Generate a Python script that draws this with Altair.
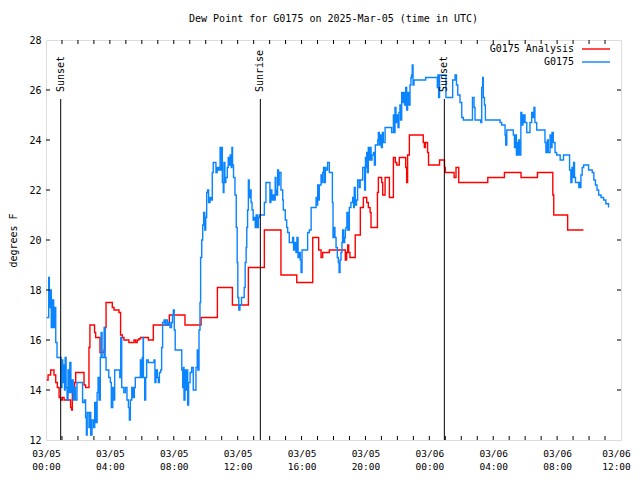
import altair as alt
import pandas as pd

FONT = "DejaVu Sans Mono"

# hours since 2025-03-05 00:00 UTC, dew point in degrees F
blue_hours = [
    0.04, 0.17, 0.21, 0.27, 0.33, 0.42, 0.48, 0.54, 0.61, 0.69, 0.94, 1.00, 1.05, 1.11, 1.16, 1.20,
    1.26, 1.32, 1.38, 1.44, 1.49, 1.56, 1.64, 1.70, 1.77, 1.84, 1.94, 2.29, 2.40, 2.48, 2.53, 2.58,
    2.69, 2.74, 2.80, 2.88, 2.98, 3.05, 3.13, 3.20, 3.26, 3.32, 3.40, 3.45, 3.51, 3.64, 3.70, 3.76,
    3.93, 4.03, 4.09, 4.18, 4.24, 4.30, 4.62, 4.68, 4.74, 4.87, 4.97, 5.07, 5.16, 5.22, 5.28, 5.37,
    5.45, 5.53, 5.59, 5.91, 5.97, 6.03, 6.08, 6.10, 6.18, 6.24, 6.30, 6.40, 6.76, 6.82, 6.88, 6.97,
    7.03, 7.10, 7.18, 7.24, 7.30, 7.39, 7.45, 7.50, 7.60, 7.67, 7.76, 7.86, 7.92, 7.97, 8.03, 8.09,
    8.50, 8.56, 8.60, 8.64, 8.70, 8.76, 8.83, 8.87, 8.93, 9.02, 9.12, 9.22, 9.39, 9.47, 9.51, 9.58,
    9.64, 9.68, 9.75, 9.81, 9.87, 9.94, 10.00, 10.06, 10.12, 10.18, 10.27, 10.35, 10.41, 10.47, 10.64, 10.72,
    10.81, 10.90, 10.94, 10.98, 11.04, 11.10, 11.14, 11.20, 11.26, 11.35, 11.41, 11.47, 11.53, 11.60, 11.64, 11.68,
    11.74, 11.83, 11.91, 11.97, 12.01, 12.07, 12.14, 12.24, 12.41, 12.47, 12.53, 12.57, 12.62, 12.67, 12.72, 12.78,
    12.84, 12.90, 12.97, 13.03, 13.10, 13.16, 13.24, 13.30, 13.36, 13.67, 13.77, 14.02, 14.08, 14.14, 14.22, 14.29,
    14.35, 14.39, 14.43, 14.50, 14.56, 14.60, 14.71, 14.82, 14.86, 14.98, 15.07, 15.13, 15.23, 15.44, 15.50, 15.56,
    15.65, 15.71, 15.78, 15.86, 15.92, 15.97, 16.03, 16.38, 16.49, 16.60, 16.91, 16.95, 17.01, 17.05, 17.11, 17.22,
    17.28, 17.32, 17.38, 17.42, 17.49, 17.53, 17.63, 17.74, 17.93, 17.97, 18.03, 18.09, 18.16, 18.24, 18.30, 18.35,
    18.41, 18.47, 18.53, 18.57, 18.63, 18.70, 18.74, 18.78, 18.84, 18.90, 18.99, 19.09, 19.20, 19.26, 19.30, 19.36,
    19.44, 19.51, 19.61, 19.67, 19.83, 19.95, 20.00, 20.03, 20.08, 20.12, 20.18, 20.24, 20.29, 20.35, 20.41, 20.50,
    20.56, 20.62, 20.77, 20.81, 20.87, 20.93, 21.00, 21.06, 21.12, 21.23, 21.64, 21.75, 21.79, 21.85, 21.91, 21.98,
    22.04, 22.10, 22.16, 22.20, 22.27, 22.33, 22.39, 22.45, 22.52, 22.58, 22.64, 22.70, 22.79, 22.85, 22.89, 22.93,
    22.98, 23.04, 23.77, 24.50, 24.54, 24.58, 24.64, 25.04, 25.46, 25.61, 25.70, 25.78, 25.92, 26.03, 26.13, 26.70,
    26.80, 26.86, 27.22, 27.28, 27.34, 27.38, 27.45, 27.51, 28.43, 28.53, 28.74, 28.78, 28.85, 29.26, 29.33, 29.39,
    29.45, 29.50, 29.56, 29.60, 29.64, 29.73, 29.79, 29.86, 29.90, 29.94, 29.99, 30.10, 30.30, 30.41, 30.47, 30.55,
    30.61, 30.72, 31.24, 31.30, 31.39, 31.45, 31.56, 31.62, 31.68, 31.76, 31.87, 31.97, 32.19, 32.40, 32.78, 32.86,
    32.93, 32.99, 33.03, 33.09, 33.15, 33.36, 33.40, 33.45, 33.49, 33.57, 33.66, 33.97, 34.20, 34.30, 34.40, 34.50,
    34.60, 34.75, 34.91, 35.05, 35.22,
]
blue_dewpt = [
    16.9, 18.5, 17.3, 18.0, 16.5, 17.6, 16.5, 17.3, 15.9, 15.3, 14.1, 15.2, 14.3, 15.0, 14.0, 15.3,
    14.1, 13.6, 14.8, 13.9, 15.1, 13.9, 14.4, 13.6, 14.1, 13.6, 14.3, 13.5, 13.6, 12.9, 12.2, 13.1,
    12.5, 13.1, 12.2, 12.8, 12.5, 13.5, 12.7, 13.9, 14.5, 13.6, 15.3, 16.3, 15.3, 16.5, 15.3, 14.8,
    14.5, 14.3, 13.3, 14.1, 13.6, 14.8, 14.5, 16.1, 14.1, 13.9, 14.1, 13.6, 13.3, 12.8, 13.6, 14.1,
    13.7, 14.1, 14.5, 15.2, 14.5, 15.3, 16.1, 14.5, 13.6, 14.5, 15.2, 15.1, 15.2, 14.3, 14.8, 14.5,
    14.3, 14.7, 14.8, 15.7, 16.7, 16.8, 16.6, 16.8, 16.6, 16.7, 16.5, 16.7, 17.0, 17.2, 16.4, 15.6,
    14.8, 14.1, 14.9, 13.6, 14.8, 14.0, 14.8, 13.4, 14.3, 14.7, 14.9, 14.0, 14.9, 15.6, 14.8, 16.4,
    17.5, 19.3, 20.0, 20.6, 21.1, 20.4, 20.9, 21.9, 22.0, 21.5, 21.7, 21.6, 22.7, 23.1, 22.7, 22.9,
    22.8, 23.7, 22.8, 23.7, 22.3, 21.9, 23.1, 22.3, 22.5, 22.9, 23.3, 23.0, 23.4, 22.9, 23.7, 23.0,
    22.5, 21.8, 20.5, 19.1, 17.7, 17.2, 17.4, 17.7, 18.1, 19.1, 19.7, 20.5, 21.2, 22.4, 21.7, 22.0,
    21.5, 21.2, 20.8, 20.9, 20.5, 21.0, 20.5, 20.9, 21.0, 21.5, 22.3, 21.5, 22.0, 21.6, 21.8, 21.6,
    22.5, 22.0, 21.8, 22.8, 22.2, 22.7, 22.0, 21.6, 21.2, 20.8, 20.5, 20.3, 19.9, 20.1, 19.6, 19.9,
    19.5, 20.1, 19.3, 19.5, 19.2, 18.7, 19.6, 20.3, 20.4, 21.3, 21.7, 21.4, 22.2, 21.6, 22.2, 22.6,
    22.3, 22.7, 22.9, 22.3, 22.9, 22.8, 23.1, 22.7, 21.5, 20.1, 20.5, 20.1, 19.7, 19.3, 19.1, 18.7,
    19.2, 19.5, 19.9, 20.4, 19.9, 20.1, 20.4, 20.5, 21.1, 20.4, 21.3, 21.5, 21.7, 21.3, 22.1, 21.4,
    21.6, 22.4, 22.1, 22.4, 22.9, 22.0, 23.3, 22.9, 23.5, 22.7, 23.7, 23.2, 23.7, 23.2, 23.4, 23.5,
    23.0, 23.8, 24.0, 24.3, 23.8, 24.2, 23.7, 24.3, 23.9, 24.5, 24.3, 25.0, 24.3, 25.3, 24.7, 25.0,
    24.5, 25.1, 25.4, 24.8, 25.9, 25.5, 25.9, 25.4, 26.1, 25.2, 25.9, 25.4, 26.2, 26.5, 26.6, 27.0,
    26.2, 26.4, 26.5, 26.1, 26.6, 25.7, 26.6, 25.7, 26.4, 26.6, 26.2, 25.8, 25.5, 24.9, 24.8, 25.7,
    25.3, 24.8, 24.7, 26.1, 26.5, 25.7, 25.4, 24.8, 24.7, 24.6, 24.2, 23.8, 24.4, 24.2, 23.7, 24.2,
    23.4, 23.9, 23.4, 24.0, 23.4, 25.1, 24.6, 25.0, 24.7, 25.0, 24.7, 24.3, 24.7, 25.1, 24.9, 25.3,
    24.7, 24.4, 23.9, 23.5, 24.0, 23.5, 24.2, 23.7, 24.3, 23.9, 23.5, 23.4, 23.2, 23.4, 22.8, 22.3,
    22.9, 22.5, 23.1, 22.5, 22.3, 22.1, 22.3, 22.1, 22.6, 22.9, 23.0, 22.8, 22.7, 22.4, 22.2, 22.0,
    21.8, 21.7, 21.6, 21.45, 21.3,
]

red_hours = [
    0.04, 0.13, 0.29, 0.50, 0.61, 0.71, 0.82, 0.92, 1.02, 1.13, 1.54, 1.61, 1.65, 1.71, 1.79, 1.86,
    2.27, 2.38, 2.48, 2.63, 2.69, 2.75, 3.04, 3.11, 3.38, 3.63, 3.69, 3.76, 4.15, 4.26, 4.57, 4.67,
    4.78, 4.88, 5.19, 5.51, 5.61, 5.71, 5.82, 5.92, 6.41, 6.72, 7.72, 8.70, 9.71, 10.73, 11.67, 12.67,
    13.67, 14.71, 15.70, 16.70, 17.07, 17.22, 17.32, 17.74, 18.74, 18.82, 18.89, 18.95, 19.03, 19.36, 19.68, 19.87,
    20.08, 20.18, 20.29, 20.35, 20.75, 20.81, 21.02, 21.08, 21.23, 21.50, 21.75, 21.87, 21.96, 22.12, 22.52, 22.58,
    22.64, 22.75, 23.62, 23.69, 23.75, 23.89, 23.95, 24.64, 24.95, 25.00, 25.55, 25.67, 25.84, 27.66, 28.70, 29.74,
    30.77, 31.73, 31.79, 32.66, 33.65,
]
red_dewpt = [
    14.4, 14.6, 14.8, 14.6, 14.3, 14.1, 13.7, 13.6, 13.7, 13.6, 13.3, 13.2, 14.1, 13.7, 14.3, 14.7,
    14.7, 14.2, 14.1, 14.1, 15.7, 16.6, 16.3, 16.1, 15.5, 15.6, 16.5, 17.5, 17.3, 17.2, 17.1, 16.2,
    16.1, 16.0, 15.9, 16.0, 15.9, 16.0, 16.05, 16.1, 16.0, 16.6, 17.0, 16.6, 16.9, 18.1, 17.4, 18.9,
    20.4, 18.6, 18.3, 20.1, 19.6, 19.3, 19.5, 19.6, 19.2, 19.5, 19.8, 19.5, 19.3, 20.2, 21.3, 21.7,
    21.5, 21.3, 21.1, 20.5, 21.9, 22.5, 22.3, 21.8, 22.5, 21.7, 23.3, 23.1, 23.0, 23.3, 22.9, 22.3,
    23.4, 24.2, 23.9, 23.7, 23.9, 23.5, 23.0, 23.2, 22.9, 22.7, 22.5, 22.9, 22.3, 22.5, 22.7, 22.5,
    22.7, 21.8, 21.0, 20.4, 20.4,
]

event_hours = [0.92, 13.42, 24.94]
event_labels = ["Sunset", "Sunrise", "Sunset"]

x_minor_ticks = list(range(1, 36))
x_label_hours = list(range(0, 37, 4))
y_label_values = list(range(12, 29, 2))
y_minor_ticks = list(range(14, 27, 2))

title_text = ["Dew Point for G0175 on 2025-Mar-05 (time in UTC)"]
legend_names = ["G0175 Analysis", "G0175"]
RED = "#ff0000"
BLUE = "#0a84ff"

W, H = 575, 400
xs = alt.Scale(domain=[0, 36], nice=False, zero=False)
ys = alt.Scale(domain=[12, 28], nice=False, zero=False)

label_expr = ("[(datum.value < 24 ? '03/05' : '03/06'), "
              "((datum.value % 24) < 10 ? '0' : '') + (datum.value % 24) + ':00']")

x_axis = alt.Axis(
    values=x_label_hours, labelExpr=label_expr, title=None, ticks=False, tickSize=0,
    domain=False, grid=False, labelPadding=8, labelFont=FONT, labelFontSize=9.5,
    labelColor="black", labelLineHeight=13, labelBaseline="top", labelFlush=False,
    labelOverlap=False, labelOffset={"expr": "datum.value == 36 ? -5 : 0"})
y_axis = alt.Axis(
    values=y_label_values, title="degrees F", ticks=False, tickSize=0, domain=False,
    grid=False, labelPadding=5, labelFont=FONT, labelFontSize=10, labelColor="black",
    titleFont=FONT, titleFontSize=10, titleFontWeight="normal", titleColor="black",
    titlePadding=10, labelOverlap=False)


def X(field="hour:Q"):
    return alt.X(field, scale=xs, axis=x_axis)


def Y(field="dewpt:Q"):
    return alt.Y(field, scale=ys, axis=y_axis)


red_df = pd.DataFrame({"hour": red_hours, "dewpt": red_dewpt})
blue_df = pd.DataFrame({"hour": blue_hours, "dewpt": blue_dewpt})
event_df = pd.DataFrame({"hour": event_hours, "label": event_labels})
xt_df = pd.DataFrame({"hour": x_minor_ticks})
yt_df = pd.DataFrame({"dewpt": y_minor_ticks})

red = alt.Chart(red_df).mark_line(interpolate="step-after", color=RED, strokeWidth=1.4).encode(
    x=X(), y=Y())
blue = alt.Chart(blue_df).mark_line(interpolate="step-after", color=BLUE, strokeWidth=1.4).encode(
    x=X(), y=Y())

ev_rule = alt.Chart(event_df).mark_rule(color="black", strokeWidth=1).encode(
    x=X(), y=alt.value(59), y2=alt.value(H))
ev_text = alt.Chart(event_df).mark_text(
    angle=270, align="left", baseline="middle", font=FONT, fontSize=10, color="black"
).encode(x=X(), y=alt.value(52), text="label:N")

xt_bottom = alt.Chart(xt_df).mark_rule(color="black").encode(
    x=X(), y=alt.value(H), y2=alt.value(H - 4))
xt_top = alt.Chart(xt_df).mark_rule(color="black").encode(
    x=X(), y=alt.value(0), y2=alt.value(4))
yt_left = alt.Chart(yt_df).mark_rule(color="black").encode(
    y=Y(), x=alt.value(0), x2=alt.value(4))
yt_right = alt.Chart(yt_df).mark_rule(color="black").encode(
    y=Y(), x=alt.value(W), x2=alt.value(W - 4))

title_layer = alt.Chart(pd.DataFrame({"t": title_text})).mark_text(
    align="center", baseline="middle", font=FONT, fontSize=10, color="black"
).encode(x=alt.value(W / 2), y=alt.value(-21), text="t:N")

legend_layers = []
for i, (name, col) in enumerate(zip(legend_names, [RED, BLUE])):
    ly = 9 + 13 * i
    one = pd.DataFrame({"name": [name]})
    legend_layers.append(
        alt.Chart(one).mark_text(align="right", baseline="middle", font=FONT,
                                 fontSize=10, color="black").encode(
            x=alt.value(528), y=alt.value(ly), text="name:N"))
    legend_layers.append(
        alt.Chart(one).mark_rule(color=col, strokeWidth=1.4).encode(
            x=alt.value(536), x2=alt.value(564), y=alt.value(ly)))

chart = alt.layer(
    red, blue, ev_rule, ev_text, xt_bottom, xt_top, yt_left, yt_right, title_layer,
    *legend_layers
).properties(
    width=W, height=H,
    autosize=alt.AutoSizeParams(type="none"),
    padding={"left": 38, "top": 32, "right": 11, "bottom": 32},
).configure_view(stroke="black", strokeWidth=1).configure(background="white")

chart.save("out.html", embed_options={"renderer": "svg", "actions": False})
